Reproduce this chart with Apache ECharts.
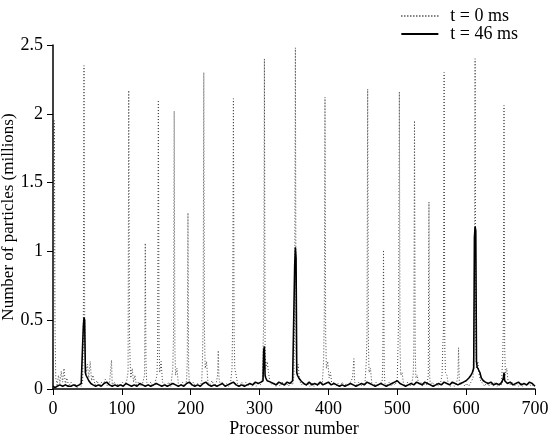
<!DOCTYPE html>
<html>
<head>
<meta charset="utf-8">
<script src="https://cdn.jsdelivr.net/npm/echarts@6/dist/echarts.min.js"></script>
<style>
  html, body { margin: 0; padding: 0; background: #fff; }
  #chart { width: 549px; height: 442px; }
</style>
</head>
<body>
<div id="chart"></div>
<script>
// t = 0 ms : processor number / particles (millions)
const procT0 = [0,1,2,3,4,6,8,10,12,14,16,18,20,23,26,29,32,35,38,41,43,44,45,46,47,48,50,52,54,56,58,61,64,67,70,73,76,79,82,85,86,89,92,95,98,101,104,107,109,110,111,112,113,115,117,119,121,124,127,130,133,134,135,136,139,142,145,148,151,152,153,154,155,157,159,162,165,168,171,174,175,176,177,178,180,182,185,188,191,194,195,196,197,198,201,204,207,210,213,216,217,218,219,220,221,223,225,228,231,234,237,239,240,241,243,246,249,252,255,258,260,261,262,263,264,266,268,271,274,277,280,283,286,289,292,295,298,301,304,306,307,308,309,311,313,315,318,321,324,327,330,333,336,339,342,345,348,350,351,352,353,354,356,358,361,364,367,370,373,376,379,382,385,388,391,393,394,395,396,397,399,401,403,405,408,411,414,417,420,423,426,429,432,435,437,438,441,444,447,450,453,455,456,457,458,459,461,463,466,469,472,475,478,479,480,481,482,485,488,491,494,497,500,501,502,503,504,505,507,509,512,515,518,521,523,524,525,526,527,529,531,534,537,540,543,545,546,547,548,551,554,557,560,563,565,566,567,568,569,570,572,574,577,580,583,586,588,589,590,592,595,598,601,604,607,610,611,612,613,614,615,617,619,621,624,627,630,633,636,639,642,645,648,651,653,654,655,656,657,659,661,664,667,670,673,676,679,682,685,688,691,694,697,699];
const partT0 = [0.05,0.57,1.95,0.42,0.08,0.03,0.1,0.04,0.13,0.05,0.15,0.03,0.08,0.02,0.05,0.02,0.04,0.01,0.03,0.02,0.05,0.35,2.35,0.5,0.22,0.12,0.18,0.08,0.2,0.06,0.1,0.03,0.06,0.02,0.05,0.03,0.07,0.02,0.04,0.21,0.03,0.05,0.02,0.04,0.02,0.05,0.03,0.06,0.12,2.17,0.42,0.2,0.08,0.15,0.05,0.1,0.03,0.05,0.02,0.04,0.1,1.06,0.2,0.05,0.03,0.05,0.02,0.04,0.1,0.3,2.10,0.35,0.12,0.2,0.05,0.04,0.02,0.05,0.02,0.15,0.4,2.02,0.3,0.1,0.15,0.04,0.02,0.05,0.02,0.06,0.2,1.28,0.15,0.04,0.03,0.05,0.02,0.04,0.02,0.05,0.2,0.45,2.30,0.4,0.15,0.2,0.05,0.03,0.06,0.02,0.04,0.1,0.28,0.08,0.03,0.05,0.02,0.04,0.02,0.05,0.15,0.55,2.11,0.4,0.15,0.1,0.04,0.02,0.05,0.03,0.05,0.02,0.04,0.02,0.05,0.02,0.04,0.03,0.06,0.5,2.40,0.3,0.15,0.2,0.12,0.05,0.03,0.05,0.02,0.04,0.02,0.05,0.02,0.04,0.02,0.05,0.03,0.1,0.6,2.48,0.3,0.12,0.18,0.06,0.03,0.05,0.02,0.04,0.02,0.05,0.02,0.04,0.02,0.05,0.03,0.2,0.55,2.12,0.4,0.15,0.2,0.08,0.12,0.03,0.05,0.02,0.04,0.02,0.05,0.02,0.04,0.02,0.05,0.08,0.22,0.05,0.03,0.05,0.02,0.04,0.03,0.2,0.4,2.18,0.35,0.12,0.15,0.04,0.02,0.05,0.02,0.04,0.05,0.2,1.01,0.15,0.04,0.03,0.05,0.02,0.04,0.03,0.08,0.3,0.55,2.16,0.3,0.1,0.12,0.04,0.02,0.05,0.02,0.04,0.1,0.25,1.95,0.3,0.08,0.1,0.03,0.05,0.02,0.04,0.03,0.1,1.36,0.1,0.03,0.05,0.02,0.04,0.02,0.05,0.1,0.3,0.42,2.30,0.3,0.12,0.1,0.04,0.02,0.05,0.02,0.04,0.1,0.30,0.06,0.03,0.05,0.02,0.04,0.02,0.05,0.08,0.3,0.6,2.40,0.35,0.15,0.2,0.1,0.06,0.04,0.02,0.05,0.02,0.04,0.02,0.05,0.02,0.04,0.03,0.2,0.45,2.06,0.3,0.1,0.15,0.05,0.03,0.05,0.02,0.04,0.02,0.05,0.02,0.04,0.02,0.05,0.02,0.03,0.02];

// t = 46 ms
const procT46 = [0,3,6,10,14,18,22,26,30,34,38,41,43,44,45,46,47,48,50,52,55,58,62,66,70,74,78,82,86,90,94,98,102,106,110,114,118,122,126,130,134,138,142,146,150,154,158,162,166,170,174,178,182,186,190,194,198,202,206,210,214,218,222,226,230,234,238,242,246,250,254,258,262,266,270,274,278,282,286,290,294,298,302,305,306,307,308,309,311,313,316,320,324,328,332,336,340,344,348,350,351,352,353,354,355,357,360,364,368,372,376,380,384,388,392,396,400,404,408,412,416,420,424,428,432,436,440,444,448,452,456,460,464,468,472,476,480,484,488,492,496,500,504,508,512,516,520,524,528,532,536,540,544,548,552,556,560,564,568,572,576,580,584,588,592,596,600,604,607,609,611,612,613,614,615,616,618,620,622,625,628,632,636,640,644,648,652,654,655,656,660,664,668,672,676,680,684,688,692,696,700];
const partT46 = [0.02,0.01,0.02,0.03,0.02,0.03,0.02,0.02,0.03,0.02,0.03,0.04,0.05,0.45,0.52,0.5,0.12,0.1,0.08,0.06,0.04,0.03,0.02,0.03,0.02,0.04,0.05,0.03,0.02,0.03,0.02,0.03,0.02,0.04,0.03,0.02,0.03,0.02,0.04,0.03,0.02,0.03,0.02,0.03,0.04,0.03,0.02,0.03,0.02,0.03,0.04,0.03,0.02,0.03,0.02,0.04,0.05,0.03,0.02,0.03,0.02,0.04,0.05,0.03,0.02,0.03,0.02,0.03,0.04,0.02,0.03,0.04,0.05,0.03,0.02,0.03,0.02,0.03,0.04,0.03,0.05,0.04,0.05,0.06,0.28,0.31,0.1,0.08,0.06,0.05,0.05,0.04,0.03,0.05,0.04,0.03,0.05,0.04,0.06,0.07,0.9,1.03,0.95,0.12,0.1,0.08,0.06,0.04,0.03,0.05,0.03,0.04,0.03,0.05,0.03,0.04,0.05,0.03,0.04,0.03,0.02,0.03,0.02,0.03,0.04,0.03,0.02,0.03,0.04,0.03,0.05,0.04,0.03,0.02,0.03,0.04,0.03,0.02,0.03,0.04,0.05,0.06,0.04,0.03,0.02,0.03,0.04,0.03,0.05,0.04,0.03,0.05,0.04,0.03,0.02,0.03,0.04,0.03,0.05,0.04,0.03,0.05,0.04,0.03,0.04,0.05,0.06,0.08,0.1,0.12,0.15,1.1,1.18,1.15,0.2,0.16,0.15,0.12,0.08,0.06,0.05,0.04,0.05,0.03,0.04,0.03,0.05,0.08,0.12,0.06,0.04,0.05,0.03,0.04,0.05,0.03,0.04,0.03,0.05,0.04,0.02];

const xTicks = [0, 100, 700];   // min, step, max
const yTicks = [0, 0.5, 2.5];

const font = 'Liberation Serif';

var myChart = echarts.init(document.getElementById('chart'));
var option = {
  animation: false,
  grid: {
    left: 53,
    right: 14,
    top: 45,
    bottom: 53,
    outerBoundsMode: 'none'
  },
  legend: {
    orient: 'vertical',
    right: 26,
    top: 2,
    itemWidth: 37,
    itemHeight: 12,
    itemGap: 0,
    itemStyle: { opacity: 0 },
    textStyle: { fontFamily: font, fontSize: 18, color: '#000', padding: [0, 0, 0, 7] },
    data: ['t = 0 ms', 't = 46 ms']
  },
  xAxis: {
    type: 'value',
    min: xTicks[0],
    max: xTicks[2],
    interval: xTicks[1],
    name: 'Processor number',
    nameLocation: 'middle',
    nameGap: 31,
    nameMoveOverlap: false,
    nameTextStyle: { fontFamily: font, fontSize: 18, color: '#000' },
    axisLine: { show: true, lineStyle: { color: '#000', width: 1.5 } },
    axisTick: { show: true, inside: false, length: 6, lineStyle: { color: '#000' } },
    axisLabel: { fontFamily: font, fontSize: 18, color: '#000', margin: 11 },
    splitLine: { show: false }
  },
  yAxis: {
    type: 'value',
    min: yTicks[0],
    max: yTicks[2],
    interval: yTicks[1],
    name: 'Number of particles (millions)',
    nameLocation: 'middle',
    nameGap: 36,
    nameMoveOverlap: false,
    nameTextStyle: { fontFamily: font, fontSize: 17, color: '#000' },
    axisLine: { show: true, lineStyle: { color: '#000', width: 1.5 } },
    axisTick: { show: true, inside: false, length: 6, lineStyle: { color: '#000' } },
    axisLabel: { fontFamily: font, fontSize: 18, color: '#000', margin: 10 },
    splitLine: { show: false }
  },
  series: [
    {
      name: 't = 0 ms',
      type: 'line',
      symbol: 'none',
      data: procT0.map((p, i) => [p, partT0[i]]),
      lineStyle: { color: '#444', width: 1, type: [1, 2] },
      itemStyle: { color: '#444' },
      z: 2
    },
    {
      name: 't = 46 ms',
      type: 'line',
      symbol: 'none',
      data: procT46.map((p, i) => [p, partT46[i]]),
      lineStyle: { color: '#000', width: 1.6, type: 'solid' },
      itemStyle: { color: '#000' },
      z: 3
    }
  ]
};
option && myChart.setOption(option);
</script>
</body>
</html>
